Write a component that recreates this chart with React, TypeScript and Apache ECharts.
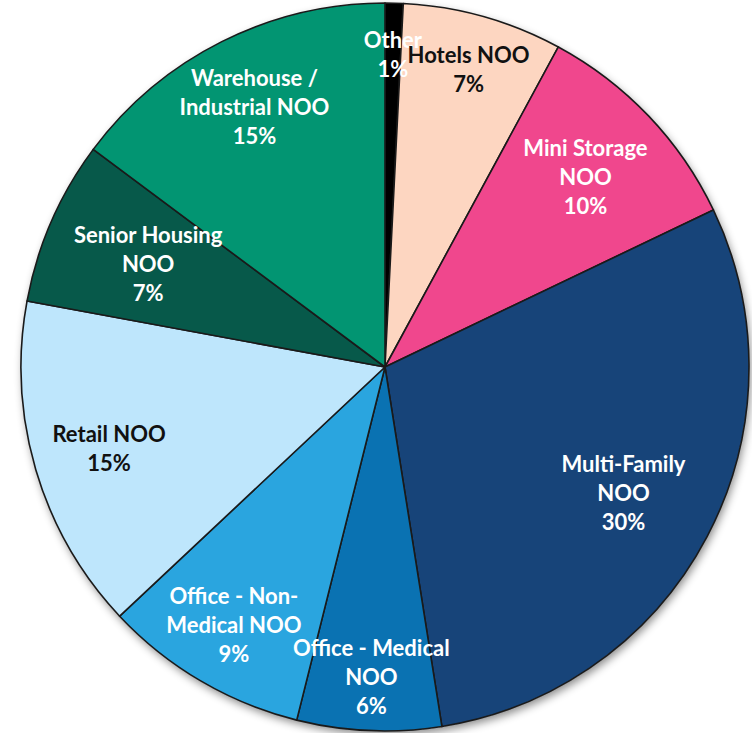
import React, { useEffect, useRef } from "react";
import * as echarts from "echarts";

const W = 752;
const H = 733;
const CX = 385;
const CY = 367;
const R = 364;

const CATEGORIES = [
  "Other",
  "Hotels NOO",
  "Mini Storage NOO",
  "Multi-Family NOO",
  "Office - Medical NOO",
  "Office - Non-Medical NOO",
  "Retail NOO",
  "Senior Housing NOO",
  "Warehouse / Industrial NOO",
];
const LABEL_TEXT = [
  "Other",
  "Hotels NOO",
  "Mini Storage\nNOO",
  "Multi-Family\nNOO",
  "Office - Medical\nNOO",
  "Office - Non-\nMedical NOO",
  "Retail NOO",
  "Senior Housing\nNOO",
  "Warehouse /\nIndustrial NOO",
];
const VALUES = [0.8, 7.1, 10.0, 29.6, 6.4, 9.1, 14.9, 7.3, 14.8];
const COLORS = [
  "#000000",
  "#FDD6C1",
  "#F0478D",
  "#174479",
  "#0A72B2",
  "#2AA5DF",
  "#BEE6FC",
  "#07594A",
  "#029572",
];
const LABEL_COLORS = ["#ffffff", "#111111", "#ffffff", "#ffffff", "#ffffff", "#ffffff", "#111111", "#ffffff", "#ffffff"];
// label distance from centre, as a fraction of the radius
const LABEL_RADIUS = [0.86, 0.85, 0.76, 0.74, 0.85, 0.82, 0.79, 0.71, 0.8];

export default function App() {
  const ref = useRef<HTMLDivElement>(null);
  useEffect(() => {
    if (!ref.current) return;
    const chart = echarts.init(ref.current, null, { renderer: "svg" });
    const total = VALUES.reduce((a, b) => a + b, 0);
    const mids: number[] = [];
    let acc = 0;
    VALUES.forEach((v) => {
      mids.push(((acc + v / 2) / total) * Math.PI * 2);
      acc += v;
    });
    chart.setOption({
      animation: false,
      series: [
        {
          type: "pie",
          center: [CX, CY],
          radius: [0, R],
          silent: true,
          z: 1,
          label: { show: false },
          itemStyle: {
            color: "#ffffff",
            shadowBlur: 8,
            shadowOffsetX: 2,
            shadowOffsetY: 4,
            shadowColor: "rgba(0,0,0,0.45)",
          },
          data: [{ name: "bg", value: total }],
        },
        {
          type: "pie",
          center: [CX, CY],
          radius: [0, R],
          startAngle: 90,
          clockwise: true,
          z: 2,
          percentPrecision: 0,
          avoidLabelOverlap: false,
          itemStyle: { borderColor: "#1a1a1a", borderWidth: 1.6 },
          label: {
            show: true,
            position: "inside",
            fontFamily: "Lato",
            fontWeight: "bold",
            fontSize: 22,
            lineHeight: 29,
            align: "center",
            formatter: (p: any) => `${LABEL_TEXT[p.dataIndex]}\n${p.percent}%`,
          },
          labelLine: { show: false },
          labelLayout: (p: any) => {
            const i = p.dataIndex;
            const a = mids[i];
            const r = LABEL_RADIUS[i] * R;
            return {
              x: CX + r * Math.sin(a),
              y: CY - r * Math.cos(a),
              align: "center",
              verticalAlign: "middle",
            };
          },
          data: CATEGORIES.map((name, i) => ({
            name,
            value: VALUES[i],
            itemStyle: { color: COLORS[i] },
            label: { color: LABEL_COLORS[i] },
          })),
        },
      ],
    });
    return () => chart.dispose();
  }, []);
  return (
    <div
      ref={ref}
      style={{ position: "fixed", left: 0, top: 0, width: W, height: H, background: "#ffffff" }}
    />
  );
}
